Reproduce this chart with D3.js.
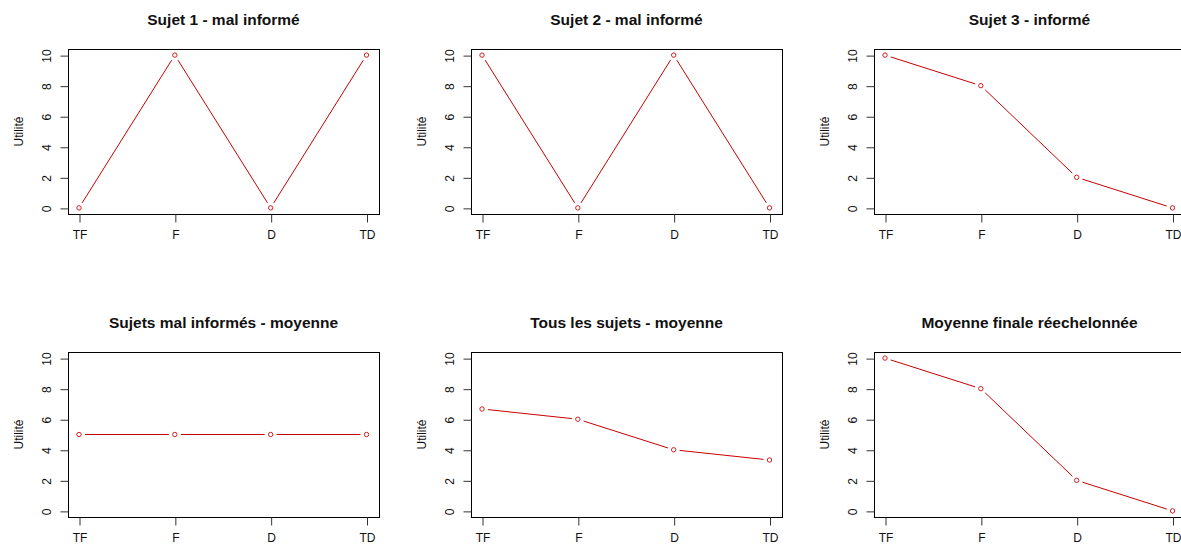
<!DOCTYPE html>
<html>
<head>
<meta charset="utf-8">
<script src="https://cdn.jsdelivr.net/npm/d3@7"></script>
<style>
html,body{margin:0;padding:0;background:#fff;}
svg{display:block;font-family:Arial,"Liberation Sans",sans-serif;}
</style>
</head>
<body>
<svg id="chart" width="1181" height="550"></svg>
<script>
const categories = ["TF", "F", "D", "TD"];
const yTicks = [0, 2, 4, 6, 8, 10];
const titles = [
  "Sujet 1 - mal informé",
  "Sujet 2 - mal informé",
  "Sujet 3 - informé",
  "Sujets mal informés - moyenne",
  "Tous les sujets - moyenne",
  "Moyenne finale réechelonnée"
];
const sujet1 = [0, 10, 0, 10];
const sujet2 = [10, 0, 10, 0];
const sujet3 = [10, 8, 2, 0];
const moyenneMalInformes = [5, 5, 5, 5];
const moyenneTous = [6.67, 6, 4, 3.33];
const moyenneFinale = [10, 8, 2, 0];
const yLabel = "Utilité";

const series = [sujet1, sujet2, sujet3, moyenneMalInformes, moyenneTous, moyenneFinale];

const svg = d3.select("#chart");
const colStep = 403, rowStep = 303;
const box = {x0: 68, x1: 379, y0: 49, y1: 214};
const lineColor = "#c80000";
const gap = 6;

series.forEach((vals, i) => {
  const col = i % 3, row = Math.floor(i / 3);
  const g = svg.append("g").attr("transform", `translate(${col * colStep},${row * rowStep})`);

  const x = d3.scaleLinear().domain([1, 4]).range([79, 366.5]);
  const y = d3.scaleLinear().domain([-0.4, 10.4]).range([box.y1, box.y0]);

  // box
  g.append("rect")
    .attr("x", box.x0 + 0.5).attr("y", box.y0 + 0.5)
    .attr("width", box.x1 - box.x0).attr("height", box.y1 - box.y0)
    .attr("fill", "none").attr("stroke", "#000").attr("stroke-width", 1);

  // x axis
  const xAxis = d3.axisBottom(x)
    .tickValues([1, 2, 3, 4])
    .tickFormat((d) => categories[d - 1])
    .tickSize(8).tickPadding(8);
  const xg = g.append("g").attr("transform", `translate(0.5,${box.y1 + 0.5})`).call(xAxis);
  xg.select(".domain").remove();
  xg.selectAll(".tick line").attr("stroke", "#333");
  xg.selectAll("text").attr("font-size", 12).attr("fill", "#111")
    .attr("font-family", "Arial, 'Liberation Sans', sans-serif").attr("dy", "0.71em");

  // y axis
  const yAxis = d3.axisLeft(y).tickValues(yTicks).tickFormat(d3.format("d")).tickSize(8).tickPadding(0);
  const yg = g.append("g").attr("transform", `translate(${box.x0 + 0.5},0.5)`).call(yAxis);
  yg.select(".domain").remove();
  yg.selectAll(".tick line").attr("stroke", "#333");
  yg.selectAll("text")
    .attr("font-size", 12).attr("fill", "#111")
    .attr("font-family", "Arial, 'Liberation Sans', sans-serif")
    .attr("x", null).attr("dy", null)
    .attr("text-anchor", "middle")
    .attr("transform", "translate(-17.5,0) rotate(-90)");

  // y label
  g.append("text")
    .attr("transform", `translate(22.5,${(box.y0 + box.y1) / 2}) rotate(-90)`)
    .attr("text-anchor", "middle")
    .attr("font-size", 12).attr("fill", "#111")
    .text(yLabel);

  // title
  g.append("text")
    .attr("x", (box.x0 + box.x1) / 2).attr("y", 24.5)
    .attr("text-anchor", "middle")
    .attr("font-size", 15.5).attr("font-weight", "bold").attr("fill", "#111")
    .text(titles[i]);

  // lines with gaps (type "b")
  const pts = vals.map((v, k) => [x(k + 1), y(v)]);
  const segs = d3.pairs(pts).map(([a, b]) => {
    const dx = b[0] - a[0], dy = b[1] - a[1];
    const len = Math.hypot(dx, dy);
    const ux = dx / len, uy = dy / len;
    return [[a[0] + ux * gap, a[1] + uy * gap], [b[0] - ux * gap, b[1] - uy * gap]];
  });
  g.selectAll("line.seg").data(segs).join("line")
    .attr("class", "seg")
    .attr("x1", (d) => d[0][0]).attr("y1", (d) => d[0][1])
    .attr("x2", (d) => d[1][0]).attr("y2", (d) => d[1][1])
    .attr("stroke", lineColor).attr("stroke-width", 1);

  g.selectAll("circle").data(vals).join("circle")
    .attr("cx", (d, k) => x(k + 1)).attr("cy", (d) => y(d))
    .attr("r", 2.2)
    .attr("fill", "none").attr("stroke", "#d02020").attr("stroke-width", 1);
});
</script>
</body>
</html>
